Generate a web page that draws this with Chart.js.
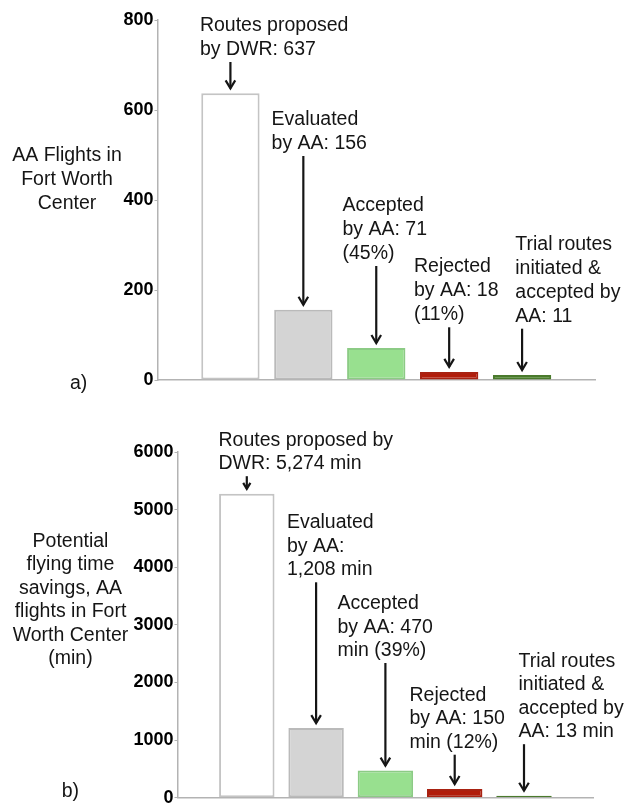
<!DOCTYPE html>
<html>
<head>
<meta charset="utf-8">
<script src="https://cdn.jsdelivr.net/npm/chart.js@4/dist/chart.umd.min.js"></script>
<style>
  html, body { margin: 0; padding: 0; background: #fff; overflow: hidden; }
  body { width: 638px; height: 804px; position: relative; }
  canvas { position: absolute; left: 0; }
  #flights-chart { top: 0; }
  #minutes-chart { top: 420px; }
</style>
</head>
<body>
<canvas id="flights-chart" width="638" height="400"></canvas>
<canvas id="minutes-chart" width="638" height="400"></canvas>
<script>
// Two panels: AA flights in Fort Worth Center (a) and the flying-time savings (b),
// each step of the DWR route funnel as one bar with its callout and arrow.

const categories = ["Routes proposed by DWR", "Evaluated by AA", "Accepted by AA", "Rejected by AA", "Trial routes initiated & accepted by AA"];
const flights = [637, 156, 71, 18, 11];
const minutes = [5274, 1208, 470, 150, 13];
const flightTicks = [0, 200, 400, 600, 800];
const minuteTicks = [0, 1000, 2000, 3000, 4000, 5000, 6000];

const flightNotes = [
  ["Routes proposed", "by DWR: 637"],
  ["Evaluated", "by AA: 156"],
  ["Accepted", "by AA: 71", "(45%)"],
  ["Rejected", "by AA: 18", "(11%)"],
  ["Trial routes", "initiated &", "accepted by", "AA: 11"],
];
const minuteNotes = [
  ["Routes proposed by", "DWR: 5,274 min"],
  ["Evaluated", "by AA:", "1,208 min"],
  ["Accepted", "by AA: 470", "min (39%)"],
  ["Rejected", "by AA: 150", "min (12%)"],
  ["Trial routes", "initiated &", "accepted by", "AA: 13 min"],
];
const flightTitle = ["AA Flights in", "Fort Worth", "Center"];
const minuteTitle = ["Potential", "flying time", "savings, AA", "flights in Fort", "Worth Center", "(min)"];

const barFill = ["#ffffff", "#d4d4d4", "#98e08f", "#b11d0b", "#3d7d18"];
const barEdge = ["#c4c4c4", "#bababa", "#8ccb85", "#a82212", "#4a7a2c"];

const FONT = "'Liberation Sans', Arial, Helvetica, sans-serif";
const INK = "#151515";

// Callouts, arrows, side title and panel letter, drawn on top of the bars.
const notesPlugin = {
  id: "notes",
  afterDraw(chart, args, o) {
    const ctx = chart.ctx;
    const bars = chart.getDatasetMeta(0).data;
    ctx.save();
    ctx.fillStyle = INK;
    ctx.strokeStyle = INK;
    ctx.font = `19.5px ${FONT}`;
    ctx.textBaseline = "alphabetic";

    o.notes.forEach((lines, i) => {
      const bar = bars[i + 1];
      ctx.textAlign = "left";
      lines.forEach((t, k) => ctx.fillText(t, bar.x + o.dx[i], o.top[i] + k * o.lineH));
      const y0 = o.top[i] + (lines.length - 1) * o.lineH + 7;
      const y1 = bar.y - 5;
      const head = o.smallHead === i ? 6 : 8;
      ctx.lineWidth = 2.2;
      ctx.beginPath();
      ctx.moveTo(bar.x, y0);
      ctx.lineTo(bar.x, y1);
      ctx.stroke();
      ctx.beginPath();
      ctx.moveTo(bar.x - head * 0.6, y1 - head);
      ctx.lineTo(bar.x, y1);
      ctx.lineTo(bar.x + head * 0.6, y1 - head);
      ctx.stroke();
    });

    ctx.textAlign = "center";
    o.title.forEach((t, k) => ctx.fillText(t, o.titleX, o.titleTop + k * o.titleH));
    ctx.textAlign = "left";
    ctx.fillText(o.panel, o.panelX, o.panelY);
    ctx.restore();
  },
};

function makeChart(id, values, ticks, yWidth, pad, notes) {
  const labels = ["", ...categories, ""];
  return new Chart(document.getElementById(id), {
    type: "bar",
    data: {
      labels,
      datasets: [{
        data: [null, ...values, null],
        backgroundColor: ["#fff", ...barFill, "#fff"],
        borderColor: ["#fff", ...barEdge, "#fff"],
        borderWidth: 2,
        borderSkipped: false,
        minBarLength: 2,
        barPercentage: 0.8,
        categoryPercentage: 1,
      }],
    },
    options: {
      responsive: false,
      animation: false,
      devicePixelRatio: 1,
      layout: { padding: pad },
      plugins: { legend: { display: false }, tooltip: { enabled: false }, notes },
      scales: {
        x: {
          offset: false,
          ticks: { display: false },
          grid: { display: false },
          border: { color: "#b3b3b3", width: 1.5 },
          afterFit: (s) => { s.height = 0; },
        },
        y: {
          min: ticks[0],
          max: ticks[ticks.length - 1],
          afterBuildTicks: (s) => { s.ticks = ticks.map((v) => ({ value: v })); },
          afterFit: (s) => { s.width = yWidth; },
          ticks: {
            color: "#000",
            padding: 1,
            font: { family: FONT, size: 18, weight: "bold" },
            callback: (v) => String(v),
          },
          grid: { drawOnChartArea: false, tickLength: 3, color: "#b3b3b3" },
          border: { color: "#b3b3b3", width: 1.5 },
        },
      },
    },
    plugins: [notesPlugin],
  });
}

makeChart("flights-chart", flights, flightTicks, 157.5,
  { left: 0, right: 43, top: 20, bottom: 20 },
  {
    notes: flightNotes,
    dx: [-30.5, -31.8, -33.8, -35.2, -6.8],
    top: [31, 125, 211, 272.3, 249.7],
    lineH: 24,
    title: flightTitle, titleX: 67, titleTop: 160.7, titleH: 24,
    panel: "a)", panelX: 70, panelY: 389,
  });

makeChart("minutes-chart", minutes, minuteTicks, 177.5,
  { left: 0, right: 44.7, top: 32, bottom: 22.3 },
  {
    notes: minuteNotes,
    dx: [-28.3, -29.2, -47.9, -45.2, -5.5],
    top: [25.7, 108.3, 189, 280.7, 246.7],
    lineH: 23.5,
    smallHead: 0,
    title: minuteTitle, titleX: 70.5, titleTop: 126.7, titleH: 23.5,
    panel: "b)", panelX: 61.7, panelY: 377,
  });
</script>
</body>
</html>
